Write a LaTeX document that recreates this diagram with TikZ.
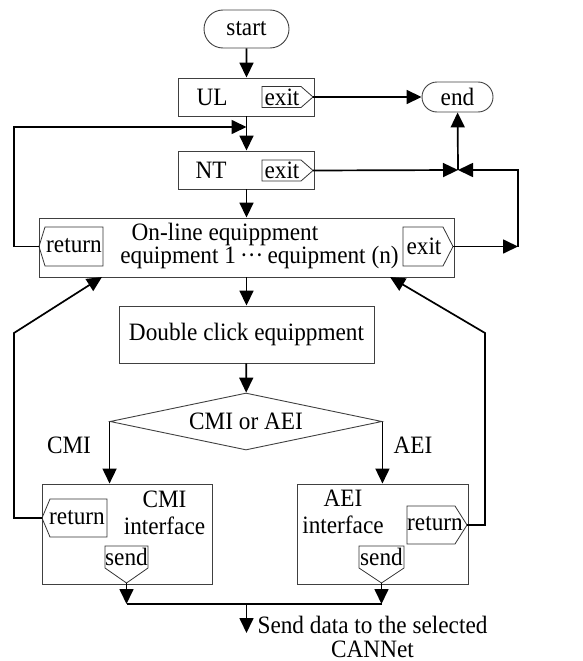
\documentclass[tikz,border=0pt]{standalone}
\usepackage{fontspec}
\setmainfont{Liberation Serif}[FakeStretch=0.93]
\usetikzlibrary{arrows.meta,shapes.geometric,shapes.misc,calc}

\begin{document}
\begin{tikzpicture}[x=1pt,y=-1pt,
  font=\fontsize{25}{26}\selectfont,
  box/.style={draw=black!75, line width=0.9pt, inner sep=0pt},
  term/.style={rounded rectangle, draw=black!75, line width=0.9pt, inner sep=0pt},
  dec/.style={diamond, draw=black!75, line width=0.9pt, inner sep=0pt, shape aspect=4.8},
  txt/.style={inner sep=0pt, align=center},
  tagline/.style={draw=black!80, line width=0.8pt},
  arr/.style={-{Triangle[length=15pt,width=14pt]}, line width=1.7pt},
  wire/.style={line width=1.7pt},
]
\useasboundingbox (0,0) rectangle (583,661);

% ---- terminals and process boxes ----
\node[term, minimum width=85, minimum height=38] (start) at (246.5,29) {start};
\node[term, minimum width=71, minimum height=30] (end) at (457.5,97) {end};
\node[box, minimum width=136, minimum height=38] (ul) at (246.5,97) {};
\node[txt] (ultxt) at (212,97) {UL};
\node[box, minimum width=136, minimum height=38] (nt) at (246.5,170) {};
\node[txt] (nttxt) at (211,170) {NT};
\node[box, minimum width=415, minimum height=59] (ol) at (246.5,247.5) {};
\node[txt] (oltxt1) at (225,234) {On-line equippment};
\node[txt] (oltxt2) at (259.5,257) {equipment 1\,···\,equipment (n)};
\node[box, minimum width=255, minimum height=57] (dc) at (246.5,334.5) {Double click equippment};
\node[dec, minimum width=272, minimum height=57] (dia) at (246,421.5) {CMI or AEI};
\node[txt] (lcmi) at (69,445) {CMI};
\node[txt] (laei) at (413,445) {AEI};
\node[box, minimum width=170, minimum height=100] (cmi) at (127,534) {};
\node[txt, font=\fontsize{25}{27.5}\selectfont] (cmitxt) at (164.5,513) {CMI\\interface};
\node[box, minimum width=171, minimum height=100] (aei) at (382.5,534) {};
\node[txt, font=\fontsize{25}{27}\selectfont] (aeitxt) at (343,512) {AEI\\interface};
\node[txt, font=\fontsize{25}{24}\selectfont, anchor=south] (out) at (372.5,657.5) {Send data to the selected\\CANNet};

% ---- tags inside the boxes ----
% UL exit
\draw[tagline] (262,86.5) -- (301,86.5) -- (313,97) -- (301,107.5) -- (262,107.5) -- cycle;
\coordinate (ulx-t) at (313,97);
\node[txt] (ulx) at (282,97) {exit};
% NT exit
\draw[tagline] (262,160) -- (301,160) -- (313,170.5) -- (301,181) -- (262,181) -- cycle;
\coordinate (ntx-t) at (313,170.5);
\node[txt] (ntx) at (282,170) {exit};
% on-line return
\draw[tagline] (103,227) -- (45,227) -- (39,246.5) -- (45,266) -- (103,266) -- cycle;
\coordinate (olr-t) at (39,246.5);
\node[txt] (olr) at (74,246) {return};
% on-line exit
\draw[tagline] (403,227) -- (443,227) -- (453,246.5) -- (443,266) -- (403,266) -- cycle;
\coordinate (olx-t) at (453,246.5);
\node[txt] (olx) at (424,246) {exit};
% CMI return
\draw[tagline] (107,499) -- (50,499) -- (42,518) -- (50,537) -- (107,537) -- cycle;
\coordinate (cmr-t) at (42,518);
\node[txt] (cmr) at (77,518) {return};
% CMI send
\draw[tagline] (105,546) -- (148,546) -- (148,568) -- (126.5,583) -- (105,568) -- cycle;
\coordinate (cms-t) at (126.5,583);
\node[txt] (cms) at (126.5,557) {send};
% AEI return
\draw[tagline] (407,506) -- (455,506) -- (467,525) -- (455,544) -- (407,544) -- cycle;
\coordinate (aer-t) at (467,525);
\node[txt] (aer) at (435,524) {return};
% AEI send
\draw[tagline] (359,546) -- (404,546) -- (404,568) -- (381.5,583) -- (359,568) -- cycle;
\coordinate (aes-t) at (381.5,583);
\node[txt] (aes) at (381.5,557) {send};

% ---- routing points ----
\coordinate (loopin) at (246.5,127);
\coordinate (jn) at (458,170);
\coordinate (rt) at (518,246.5);
\coordinate (cmiin) at (102,277);
\coordinate (aeiin) at (390,277);
\coordinate (bus) at (246.5,604);
\coordinate (outtip) at (246.5,633);

% ---- connectors ----
\draw[arr] (start) -- (ul);
\draw[arr] (ulx-t) -- (end);
\draw[arr] (ul) -- (nt);
\draw[arr] (olr-t) -- (14,246.5) -- (14,127) -- (loopin);
\draw[arr] (ntx-t) -- (jn);
\draw[arr] (jn) -- (end);
\draw[arr] (olx-t) -- (rt);
\draw[arr] (rt) |- (jn);
\draw[arr] (nt) -- (ol);
\draw[arr] (ol) -- (dc);
\draw[arr] (dc) -- (dia);
\draw[arr] (dia.west) -- (dia.west |- cmi.north);
\draw[arr] (dia.east) -- (dia.east |- aei.north);
\draw[arr] (cmr-t) -- (14,518) -- (14,333) -- (cmiin);
\draw[arr] (aer-t) -- (485,525) -- (485,333) -- (aeiin);
\draw[arr] (cms-t) -- (cms-t |- bus);
\draw[arr] (aes-t) -- (aes-t |- bus);
\draw[wire] (cms-t |- bus) -- (aes-t |- bus);
\draw[arr] (bus) -- (outtip);
\end{tikzpicture}
\end{document}
